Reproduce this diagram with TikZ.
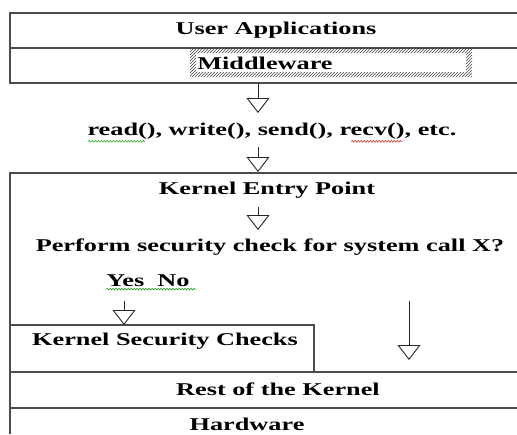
\documentclass[tikz,border=0pt]{standalone}
\usepackage{fontspec}
\setmainfont{Liberation Serif}[FakeStretch=1.46]
\usetikzlibrary{arrows.meta,patterns,decorations.pathmorphing}
\tikzset{
  frame/.style={line width=1.2pt, draw=black!70},
  flow/.style={line width=0.9pt, draw=black!85, -{Triangle[open, width=23pt, length=15pt, line width=0.9pt]}},
  lbl/.style={inner sep=0pt, text=black},
  squig/.style={line width=0.5pt, decorate, decoration={snake, amplitude=0.8pt, segment length=3pt}}
}
\begin{document}
\begin{tikzpicture}[x=1pt, y=-1pt, font=\fontsize{18}{20}\selectfont\bfseries]
\useasboundingbox (0,0) rectangle (517,434);
% top block
\draw[frame] (517,13) -- (10,13) -- (10,83) -- (517,83);
\draw[frame] (10,48) -- (517,48);
% hatched middleware frame
\fill[pattern=north east lines, pattern color=black!75, even odd rule]
  (190,48) rectangle (472,77) (196,53) rectangle (466,72);
% kernel block
\draw[frame] (517,173) -- (10,173) -- (10,434);
\draw[frame] (10,325) -- (314,325) -- (314,372);
\draw[frame] (10,372) -- (517,372);
\draw[frame] (10,408) -- (517,408);
% texts
\node[lbl] (ua) at (276,30) {User Applications};
\node[lbl] (mw) at (265,63) {Middleware};
\node[lbl] (calls) at (272,131) {read(), write(), send(), recv(), etc.};
\node[lbl] (kep) at (267,190) {Kernel Entry Point};
\node[lbl] (perf) at (270,247) {Perform security check for system call X?};
\node[lbl] (yn) at (148,281) {Yes\ \ No};
\node[lbl] (ksc) at (165,341) {Kernel Security Checks};
\node[lbl] (rest) at (278,389) {Rest of the Kernel};
\node[lbl] (hw) at (247,424) {Hardware};
% spell-check squiggles
\draw[squig, green!60!black] (calls.south west) ++(1,2) -- ++(57,0);
\draw[squig, red!80!black] (calls.south west) ++(264,2) -- ++(51,0);
\draw[squig, green!60!black] (yn.south west) ++(0,2) -- ++(90,0);
% arrows
\coordinate (a1s) at (258,83);  \coordinate (a1e) at (258,113);
\coordinate (a2s) at (258,147); \coordinate (a2e) at (258,172);
\coordinate (a3s) at (258,207); \coordinate (a3e) at (258,230);
\coordinate (a4s) at (124,301); \coordinate (a4e) at (124,325);
\coordinate (a5s) at (409,301); \coordinate (a5e) at (409,360);
\draw[flow] (a1s) -- (a1e);
\draw[flow] (a2s) -- (a2e);
\draw[flow] (a3s) -- (a3e);
\draw[flow] (a4s) -- (a4e);
\draw[flow] (a5s) -- (a5e);
\end{tikzpicture}
\end{document}
